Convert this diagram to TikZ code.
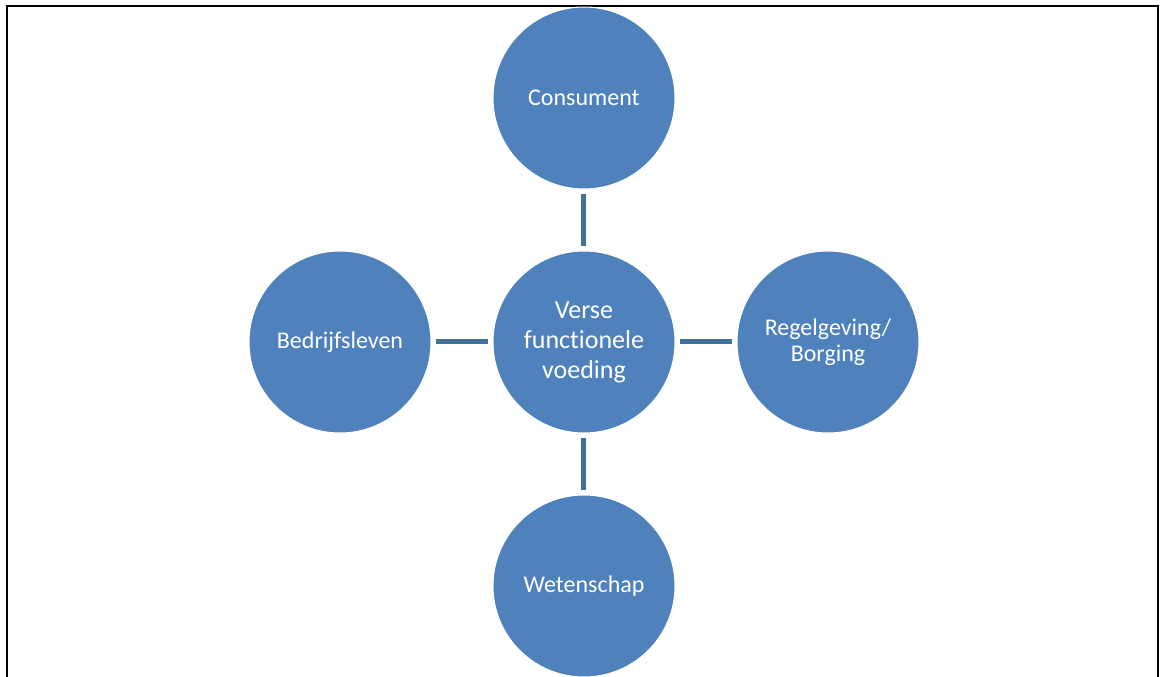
\documentclass[tikz,border=0pt]{standalone}
\usepackage{fontspec}
\setmainfont[Ligatures=NoCommon]{Carlito}
\usetikzlibrary{positioning}
\definecolor{bolblauw}{HTML}{4F81BD}
\definecolor{lijnblauw}{HTML}{41719C}

\begin{document}
\begin{tikzpicture}[
  bol/.style={circle, fill=bolblauw, draw=white, line width=1pt, minimum size=182pt,
    inner sep=0pt, align=center, text=white, font=\fontsize{24}{26}\selectfont},
  verbind/.style={draw=lijnblauw, line width=5pt, shorten <=5pt, shorten >=4pt},
]
\useasboundingbox (-584pt,-335pt) rectangle (579pt,342pt);
\draw[line width=2.5pt] (-577pt,-345pt) |- (574pt,336pt) -- (574pt,-345pt);

\node[bol, font=\fontsize{26}{30}\selectfont] (hub) at (0,0) {Verse\\functionele\\voeding};
\node[bol, above=61pt of hub] (cons) {Consument};
\node[bol, left=61pt of hub] (bedr) {Bedrijfsleven};
\node[bol, right=61pt of hub] (regel) {Regelgeving/\\Borging};
\node[bol, below=61pt of hub] (weten) {Wetenschap};

\draw[verbind] (cons) -- (hub);
\draw[verbind] (bedr) -- (hub);
\draw[verbind] (hub) -- (regel);
\draw[verbind] (hub) -- (weten);
\end{tikzpicture}
\end{document}
